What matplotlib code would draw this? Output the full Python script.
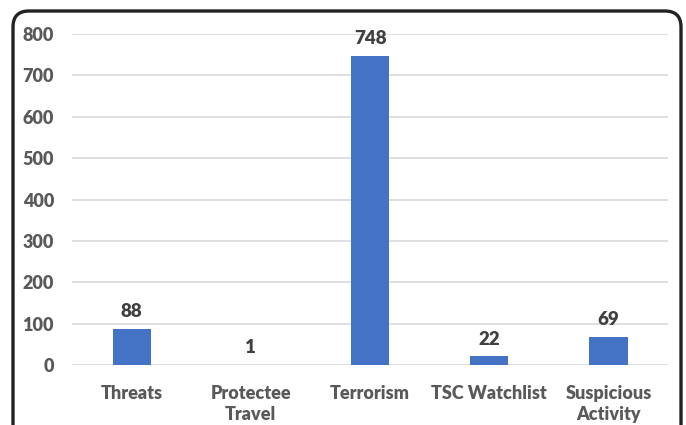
import matplotlib.pyplot as plt
from matplotlib.patches import FancyBboxPatch
from matplotlib.transforms import IdentityTransform

categories = ['Threats', 'Protectee\nTravel', 'Terrorism', 'TSC Watchlist', 'Suspicious\nActivity']
counts = [88, 1, 748, 22, 69]
y_ticks = [0, 100, 200, 300, 400, 500, 600, 700, 800]

plt.rcParams['font.family'] = ['Lato', 'DejaVu Sans']

fig = plt.figure(figsize=(6.86, 4.25), dpi=100)
ax = fig.add_axes([0.105, 0.141, 0.869, 0.779])

x = range(len(categories))
ax.bar(x, counts, width=0.32, color='#4472C4', zorder=3)

for i, v in zip(x, counts):
    ax.annotate(str(v), (i, v), xytext=(0, 6), textcoords='offset points',
                ha='center', va='bottom', fontsize=13.5, fontweight='heavy', color='#404040')

ax.set_ylim(0, 800)
ax.set_xlim(-0.5, len(categories) - 0.5)
ax.set_yticks(y_ticks)
ax.set_xticks(list(x))
ax.set_xticklabels(categories, linespacing=1.35)
ax.yaxis.grid(True, color='#D9D9D9', linewidth=1.2, zorder=0)
for s in ax.spines.values():
    s.set_visible(False)
ax.tick_params(axis='both', length=0, labelsize=13, labelcolor='#595959')
ax.tick_params(axis='y', pad=13)
ax.tick_params(axis='x', pad=14)
for lbl in ax.get_xticklabels() + ax.get_yticklabels():
    lbl.set_fontweight('heavy')

# rounded frame around the chart (pixel coordinates)
frame = FancyBboxPatch((13, -30), 668, 444, boxstyle='round,pad=0,rounding_size=16',
                       transform=IdentityTransform(), fill=False,
                       edgecolor='#222222', linewidth=2.4)
fig.patches.append(frame)

fig.savefig('out.png', dpi=100)
